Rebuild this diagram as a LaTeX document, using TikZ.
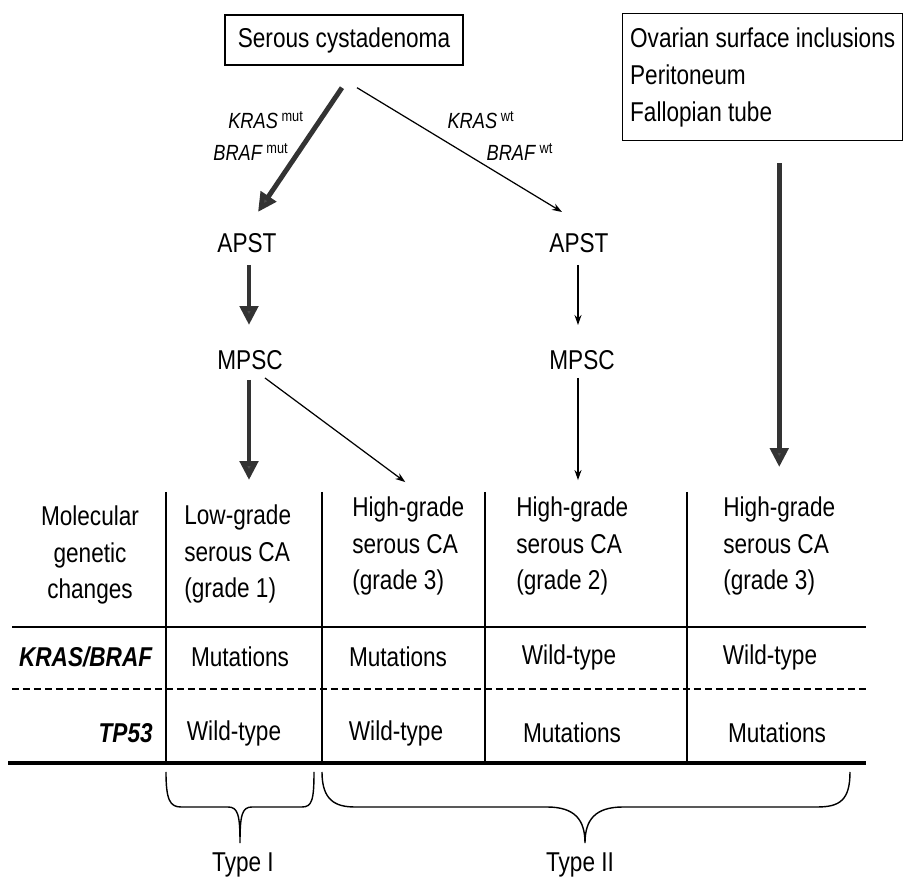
\documentclass[tikz,border=0pt]{standalone}
\usepackage{fontspec}
\setmainfont{Liberation Sans}[FakeStretch=0.83]
\usetikzlibrary{arrows.meta}
\begin{document}
\begin{tikzpicture}[x=0.02cm,y=-0.02cm,font=\fontsize{15.5pt}{21pt}\selectfont]
\tikzset{txt/.style={inner sep=0pt},
  lbl/.style={inner sep=0pt,font=\fontsize{12.5pt}{15pt}\selectfont},
  bigarrow/.style={line width=2.8pt,draw=black!80,-{Triangle[length=0.38cm,width=0.36cm,fill=black!70]}},
  thinarrow/.style={line width=0.7pt,-{Stealth[length=0.2cm,width=0.14cm]}}}
\useasboundingbox (0,0) rectangle (904,881);
% Draw the boxes
\node[draw,line width=0.8pt,minimum width=4.76cm,minimum height=1cm] (sc) at (344,40) {Serous cystadenoma};
\node[draw,line width=0.8pt,anchor=north west,align=left,minimum width=5.6cm,minimum height=2.54cm] (ov) at (622,13) {Ovarian surface inclusions\\Peritoneum\\Fallopian tube};
% the stages
\node[txt] (apstL) at (247,243) {APST};
\node[txt] (mpscL) at (250,360) {MPSC};
\node[txt] (apstR) at (579,243) {APST};
\node[txt] (mpscR) at (582,360) {MPSC};
% the labels on the arrows
\node[lbl] (kmut) at (266,120) {\textit{KRAS}\,\textsuperscript{mut}};
\node[lbl] (bmut) at (251,152) {\textit{BRAF}\,\textsuperscript{mut}};
\node[lbl] (kwt) at (481,120) {\textit{KRAS}\,\textsuperscript{wt}};
\node[lbl] (bwt) at (520,152) {\textit{BRAF}\,\textsuperscript{wt}};
% Draw the table
\foreach \x in {166,322,485,687} {
\draw[line width=1pt] (\x,492) -- (\x,763);
}
\draw[line width=1pt] (12,627) -- (866,627);
\draw[line width=1pt,dash pattern=on 0.14cm off 0.08cm] (12,689) -- (866,689);
\draw[line width=2.2pt] (8,763) -- (866,763);
% the head of the table
\node[txt,align=center] (mgc) at (90,555) {Molecular\\genetic\\changes};
\node[txt,align=left,anchor=west] (lg) at (184,554) {Low-grade\\serous CA\\(grade 1)};
\node[txt,align=left,anchor=west] (hg3a) at (352,546) {High-grade\\serous CA\\(grade 3)};
\node[txt,align=left,anchor=west] (hg2) at (516,546) {High-grade\\serous CA\\(grade 2)};
\node[txt,align=left,anchor=west] (hg3b) at (723,546) {High-grade\\serous CA\\(grade 3)};
% the rows
\node[txt,anchor=east] (kb) at (153,657) {\textbf{\textit{KRAS/BRAF}}};
\node[txt] (m1) at (240,657) {Mutations};
\node[txt] (m2) at (398,657) {Mutations};
\node[txt] (w3) at (569,657) {Wild-type};
\node[txt] (w4) at (770,657) {Wild-type};
\node[txt,anchor=east] (tp) at (153,733) {\textbf{\textit{TP53}}};
\node[txt] (w1) at (234,733) {Wild-type};
\node[txt] (w2) at (396,733) {Wild-type};
\node[txt] (m3) at (572,733) {Mutations};
\node[txt] (m4) at (777,733) {Mutations};
% the arrows
\draw[bigarrow] ([shift={(-2,22)}]sc.south) -- ([shift={(11,-21)}]apstL.north);
\draw[thinarrow] ([shift={(13,22)}]sc.south) -- ([shift={(-17,-21)}]apstR.north);
\draw[bigarrow] ([shift={(2,12)}]apstL.south) -- ([shift={(-1,-25)}]mpscL.north);
\draw[bigarrow] ([shift={(-1,10)}]mpscL.south) -- ([shift={(-1,-24)}]mpscL.south |- lg.north);
\draw[thinarrow] ([shift={(15,8)}]mpscL.south) -- ([shift={(-3,-14)}]hg3a.north);
\draw[thinarrow] ([shift={(-1,12)}]apstR.south) -- ([shift={(-4,-25)}]mpscR.north);
\draw[thinarrow] ([shift={(-4,8)}]mpscR.south) -- ([shift={(-4,-16)}]mpscR.south |- hg2.north);
\draw[bigarrow] ([shift={(0,22)}]hg3b.north |- ov.south) -- ([shift={(0,-29)}]hg3b.north);
% the braces
\draw[line width=0.8pt] (166,772) .. controls (166,800) and (170,807) .. (181,807) -- (228,807)
  .. controls (238,807) and (240,815) .. (240,843)
  .. controls (240,815) and (242,807) .. (252,807) -- (302,807)
  .. controls (312,807) and (314,800) .. (314,772);
\draw[line width=0.8pt] (322,772) .. controls (322,800) and (335,807) .. (355,807) -- (547,807)
  .. controls (575,807) and (585,820) .. (585,843)
  .. controls (585,820) and (595,807) .. (623,807) -- (817,807)
  .. controls (840,807) and (850,800) .. (850,772);
\node[txt] (typeI) at (243,865) {Type I};
\node[txt] (typeII) at (580,865) {Type II};
\end{tikzpicture}
\end{document}
